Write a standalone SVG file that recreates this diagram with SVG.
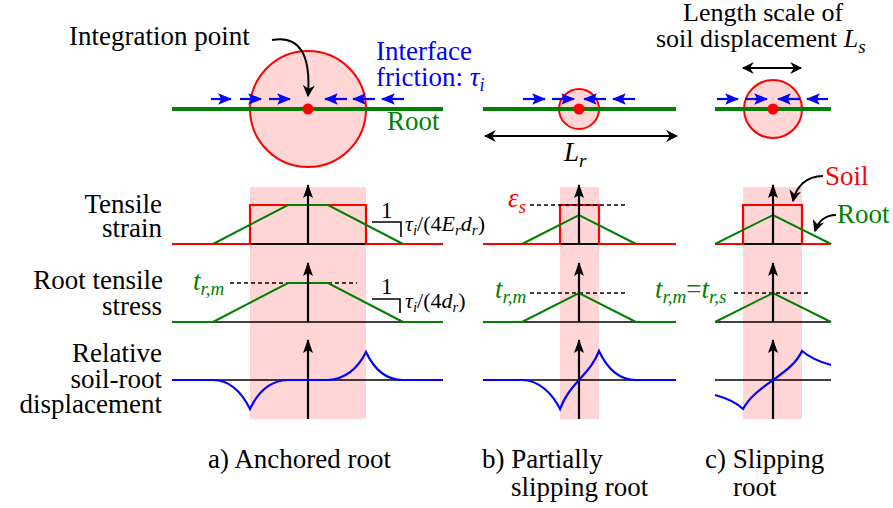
<svg xmlns="http://www.w3.org/2000/svg" width="893" height="508" viewBox="0 0 893 508" font-family="'Liberation Serif', 'Times New Roman', 'DejaVu Serif', serif">
<defs>
<marker id="bh" viewBox="0 0 12 10" refX="11" refY="5" markerWidth="14" markerHeight="12" markerUnits="userSpaceOnUse" orient="auto">
<path d="M0,0 L12,5 L0,10 L2.5,5 Z" fill="#0000ff"/>
</marker>
<marker id="kh" viewBox="0 0 10 10" refX="9" refY="5" markerWidth="12" markerHeight="12" markerUnits="userSpaceOnUse" orient="auto-start-reverse">
<path d="M0,0 L10,5 L0,10 L3,5 Z" fill="#000"/>
</marker>
<marker id="ax" viewBox="0 0 10 14" refX="5" refY="1" markerWidth="10" markerHeight="14" markerUnits="userSpaceOnUse" orient="0">
<path d="M5,0 L10,14 L5,11 L0,14 Z" fill="#000"/>
</marker>
</defs>
<style>
text{font-family:'Liberation Serif','Times New Roman','DejaVu Serif',serif;}
.lbl{font-size:27px;fill:#000;}
.m{font-style:italic;}
.root{stroke:#008000;stroke-width:4;fill:none;}
.soilc{fill:#ffd5d5;stroke:#ff0000;stroke-width:2;}
.dot{fill:#ff0000;}
.bar{stroke:#0000ff;stroke-width:2.2;marker-end:url(#bh);}
.shade{fill:#ffd5d5;}
.axis{stroke:#000;stroke-width:2.2;fill:none;marker-end:url(#ax);}
.base{stroke:#000;stroke-width:1.5;}
.red{stroke:#ff0000;stroke-width:2.2;fill:none;}
.grn{stroke:#008000;stroke-width:2;fill:none;}
.blu{stroke:#0000ff;stroke-width:2.2;fill:none;}
.dash{stroke:#000;stroke-width:1.3;stroke-dasharray:4,3;}
.slope{stroke:#000;stroke-width:1.6;fill:none;}
.curv{stroke:#000;stroke-width:2;fill:none;marker-end:url(#kh);}
.dbl{stroke:#000;stroke-width:2;marker-start:url(#kh);marker-end:url(#kh);}
</style>

<g id="bands">
<rect class="shade" x="250" y="187" width="116" height="232"/>
<rect class="shade" x="560" y="187" width="39" height="232"/>
<rect class="shade" x="743" y="187" width="59" height="232"/>
</g>

<g id="row-labels" class="lbl" text-anchor="end">
<text x="162" y="213">Tensile</text>
<text x="162" y="237">strain</text>
<text x="163" y="289">Root tensile</text>
<text x="162" y="315">stress</text>
<text x="162" y="362">Relative</text>
<text x="162" y="388">soil-root</text>
<text x="162" y="413">displacement</text>
</g>

<g id="a-top">
<circle class="soilc" cx="308" cy="109" r="58"/>
<line class="root" x1="172" y1="109" x2="443" y2="109"/>
<circle class="dot" cx="308" cy="109" r="5.5"/>
<line class="bar" x1="211" y1="99" x2="231" y2="99"/>
<line class="bar" x1="240" y1="99" x2="261" y2="99"/>
<line class="bar" x1="269" y1="99" x2="290" y2="99"/>
<line class="bar" x1="347" y1="99" x2="325" y2="99"/>
<line class="bar" x1="375" y1="99" x2="353" y2="99"/>
<line class="bar" x1="404" y1="99" x2="382" y2="99"/>
<text class="lbl" x="69" y="45">Integration point</text>
<path class="curv" d="M272,40 C300,35 311,55 308,96"/>
<text class="lbl" x="376" y="60" style="fill:#0000ff">Interface</text>
<text class="lbl" x="376" y="86" style="fill:#0000ff">friction: <tspan class="m">τ</tspan><tspan class="m" font-size="18" dy="5">i</tspan></text>
<text class="lbl" x="387" y="130" style="fill:#008000">Root</text>
</g>

<g id="b-top">
<circle class="soilc" cx="579" cy="109" r="20"/>
<line class="root" x1="483" y1="109" x2="676" y2="109"/>
<circle class="dot" cx="579" cy="109" r="5.5"/>
<line class="bar" x1="523" y1="99" x2="545" y2="99"/>
<line class="bar" x1="552" y1="99" x2="574" y2="99"/>
<line class="bar" x1="606" y1="99" x2="584" y2="99"/>
<line class="bar" x1="635" y1="99" x2="613" y2="99"/>
<line class="dbl" x1="485" y1="136" x2="677" y2="136"/>
<text class="lbl m" x="564" y="161">L<tspan font-size="19" dy="6">r</tspan></text>
</g>

<g id="c-top">
<circle class="soilc" cx="773" cy="109" r="29"/>
<line class="root" x1="715" y1="109" x2="831" y2="109"/>
<circle class="dot" cx="773" cy="109" r="5.5"/>
<line class="bar" x1="717" y1="99" x2="738" y2="99"/>
<line class="bar" x1="745" y1="99" x2="767" y2="99"/>
<line class="bar" x1="800" y1="99" x2="778" y2="99"/>
<line class="bar" x1="828" y1="99" x2="807" y2="99"/>
<line class="dbl" x1="743" y1="68" x2="801" y2="68"/>
<text x="683" y="21" font-size="26">Length scale of</text>
<text x="656" y="47" font-size="26">soil displacement <tspan class="m">L</tspan><tspan class="m" font-size="19" dy="6">s</tspan></text>
</g>

<g id="a-strain">
<line class="base" x1="172" y1="244" x2="443" y2="244"/>
<polyline class="red" points="172,244 250,244 250,205 366,205 366,244 443,244"/>
<line class="base" x1="251" y1="244" x2="365" y2="244"/>
<polyline class="grn" points="213,244 288,205 328,205 403,244"/>
<line class="axis" x1="308" y1="244" x2="308" y2="185"/>
<polyline class="slope" points="372,222 401,222 401,237"/>
<text x="381" y="218" font-size="23">1</text>
<text x="405" y="231" font-size="22"><tspan class="m">τ</tspan><tspan class="m" font-size="15" dy="4">i</tspan><tspan dy="-4">/(4</tspan><tspan class="m">E</tspan><tspan class="m" font-size="15" dy="4">r</tspan><tspan class="m" dy="-4">d</tspan><tspan class="m" font-size="15" dy="4">r</tspan><tspan dy="-4">)</tspan></text>
</g>

<g id="a-stress">
<line class="base" x1="172" y1="322" x2="443" y2="322"/>
<line class="grn" x1="172" y1="322" x2="213" y2="322"/>
<line class="grn" x1="403" y1="322" x2="443" y2="322"/>
<line class="dash" x1="230" y1="283" x2="357" y2="283"/>
<polyline class="grn" points="213,322 288,283 328,283 403,322"/>
<line class="axis" x1="308" y1="322" x2="308" y2="263"/>
<text x="193" y="290" font-size="27" fill="#008000" class="m">t<tspan font-size="19" dy="5">r,m</tspan></text>
<polyline class="slope" points="372,299 400,299 400,313"/>
<text x="381" y="294" font-size="23">1</text>
<text x="405" y="308" font-size="22"><tspan class="m">τ</tspan><tspan class="m" font-size="15" dy="4">i</tspan><tspan dy="-4">/(4</tspan><tspan class="m">d</tspan><tspan class="m" font-size="15" dy="4">r</tspan><tspan dy="-4">)</tspan></text>
</g>

<g id="a-disp">
<line class="base" x1="172" y1="380" x2="443" y2="380"/>
<line class="axis" x1="308" y1="419" x2="308" y2="340"/>
<path class="blu" d="M172,380 H213 C232,380 243,395 250,409 C257,394 268,381 287,380 H328 C346,379 358,368 366,352 C373,367 384,380 403,380 H443"/>
</g>

<g id="b-strain">
<line class="base" x1="483" y1="244" x2="676" y2="244"/>
<polyline class="red" points="483,244 560,244 560,205 599,205 599,244 676,244"/>
<line class="base" x1="561" y1="244" x2="598" y2="244"/>
<line class="dash" x1="530" y1="205" x2="628" y2="205"/>
<polyline class="grn" points="522,244 579,215 636,244"/>
<line class="axis" x1="579" y1="244" x2="579" y2="185"/>
<text x="508" y="207" font-size="27" fill="#ff0000" class="m">ε<tspan font-size="19" dy="6">s</tspan></text>
</g>

<g id="b-stress">
<line class="base" x1="483" y1="322" x2="676" y2="322"/>
<line class="grn" x1="483" y1="322" x2="522" y2="322"/>
<line class="grn" x1="636" y1="322" x2="676" y2="322"/>
<line class="dash" x1="530" y1="293" x2="628" y2="293"/>
<polyline class="grn" points="522,322 579,293 636,322"/>
<line class="axis" x1="579" y1="322" x2="579" y2="263"/>
<text x="495" y="298" font-size="27" fill="#008000" class="m">t<tspan font-size="19" dy="5">r,m</tspan></text>
</g>

<g id="b-disp">
<line class="base" x1="483" y1="380" x2="676" y2="380"/>
<line class="axis" x1="579" y1="419" x2="579" y2="340"/>
<path class="blu" d="M483,380 H522 C540,380 553,395 560,409 C565,396 571,389 579,380 C587,371 594,364 599,351 C606,366 618,380 636,380 H676"/>
</g>

<g id="c-strain">
<line class="base" x1="715" y1="244" x2="831" y2="244"/>
<polyline class="red" points="715,244 743,244 743,205 802,205 802,244 831,244"/>
<line class="base" x1="744" y1="244" x2="801" y2="244"/>
<polyline class="grn" points="715,244 773,215 831,244"/>
<line class="axis" x1="773" y1="244" x2="773" y2="185"/>
<text class="lbl" x="825" y="185" style="fill:#ff0000">Soil</text>
<path class="curv" d="M823,176 C806,176 796,187 793,201"/>
<text class="lbl" x="837" y="223" style="fill:#008000">Root</text>
<path class="curv" d="M836,215 C825,215 818,222 815,231"/>
</g>

<g id="c-stress">
<line class="base" x1="715" y1="322" x2="831" y2="322"/>
<line class="dash" x1="734" y1="293" x2="808" y2="293"/>
<polyline class="grn" points="715,322 773,293 831,322"/>
<line class="axis" x1="773" y1="322" x2="773" y2="263"/>
<text x="655" y="298" font-size="27" fill="#008000"><tspan class="m">t</tspan><tspan class="m" font-size="19" dy="5">r,m</tspan><tspan dy="-5">=</tspan><tspan class="m">t</tspan><tspan class="m" font-size="19" dy="5">r,s</tspan></text>
</g>

<g id="c-disp">
<line class="base" x1="715" y1="380" x2="831" y2="380"/>
<line class="axis" x1="773" y1="419" x2="773" y2="340"/>
<path class="blu" d="M715,395 C726,398 737,403 743,409 C750,396 762,388 773,380 C784,372 796,364 802,351 C809,357 820,362 831,365"/>
</g>

<g id="captions" class="lbl">
<text x="208" y="468">a) Anchored root</text>
<text x="482" y="468">b) Partially</text>
<text x="511" y="496">slipping root</text>
<text x="705" y="468">c) Slipping</text>
<text x="733" y="496">root</text>
</g>
</svg>
